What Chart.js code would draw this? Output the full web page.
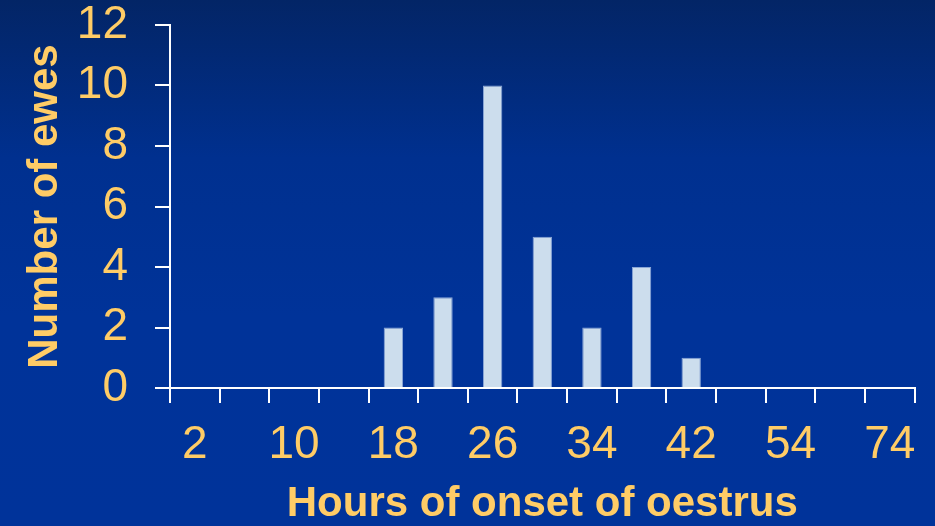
<!DOCTYPE html>
<html>
<head>
<meta charset="utf-8">
<script src="https://cdn.jsdelivr.net/npm/chart.js@4.4.0/dist/chart.umd.min.js"></script>
<style>
  html, body { margin: 0; padding: 0; }
  body {
    width: 935px; height: 526px; overflow: hidden;
    background: linear-gradient(180deg, #032566 0%, #00308f 30%, #003399 60%, #00339a 100%);
  }
  #wrap { width: 935px; height: 526px; position: relative; }
</style>
</head>
<body>
<div id="wrap"><canvas id="chart"></canvas></div>
<script>
// hours of onset of oestrus (every other one is labelled on the axis)
const hours = [2, 6, 10, 14, 18, 22, 26, 30, 34, 38, 42, 48, 54, 64, 74];
const ewes = [0, 0, 0, 0, 2, 3, 10, 5, 2, 4, 1, 0, 0, 0, 0];
const yTicks = [0, 2, 4, 6, 8, 10, 12];

const yellow = '#ffcc66';
const font = 'Liberation Sans, Arial, sans-serif';

const ctx = document.getElementById('chart').getContext('2d');
new Chart(ctx, {
    type: 'bar',
    data: {
        labels: hours.map(String),
        datasets: [{
            data: ewes,
            backgroundColor: '#ccdded',
            borderColor: '#8aa6d6',
            borderWidth: 1,
            barPercentage: 0.39,
            categoryPercentage: 1
        }]
    },
    options: {
        responsive: true,
        maintainAspectRatio: false,
        animation: false,
        layout: { padding: { top: 0, right: 20, left: 0, bottom: 0 } },
        plugins: { legend: { display: false }, tooltip: { enabled: false } },
        scales: {
            x: {
                grid: { display: true, drawOnChartArea: false, drawTicks: true, tickLength: 15, color: '#ffffff', lineWidth: 2 },
                border: { color: '#ffffff', width: 2 },
                ticks: {
                    color: yellow,
                    font: { family: font, size: 46, lineHeight: 1 },
                    padding: 19,
                    autoSkip: false,
                    maxRotation: 0,
                    minRotation: 0,
                    callback: (v, i) => i % 2 === 0 ? String(hours[i]) : ''
                },
                title: {
                    display: true,
                    text: 'Hours of onset of oestrus',
                    color: yellow,
                    font: { family: font, size: 42, weight: 'bold', lineHeight: 1 },
                    padding: { top: 0, bottom: 1 }
                },
                afterFit: s => { s.height = 138; }
            },
            y: {
                min: 0,
                max: 12,
                grid: { display: true, drawOnChartArea: false, drawTicks: true, tickLength: 15, color: '#ffffff', lineWidth: 2 },
                border: { color: '#ffffff', width: 2 },
                afterBuildTicks: s => { s.ticks = yTicks.map(v => ({ value: v })); },
                ticks: {
                    color: yellow,
                    font: { family: font, size: 46, lineHeight: 1 },
                    padding: 27
                },
                title: {
                    display: true,
                    text: 'Number of ewes',
                    color: yellow,
                    font: { family: font, size: 42, weight: 'bold', lineHeight: 1 },
                    padding: { top: 24, bottom: 0 }
                },
                afterFit: s => { s.width = 170; s.paddingTop = 25; s.paddingBottom = 0; }
            }
        }
    }
});
</script>
</body>
</html>
